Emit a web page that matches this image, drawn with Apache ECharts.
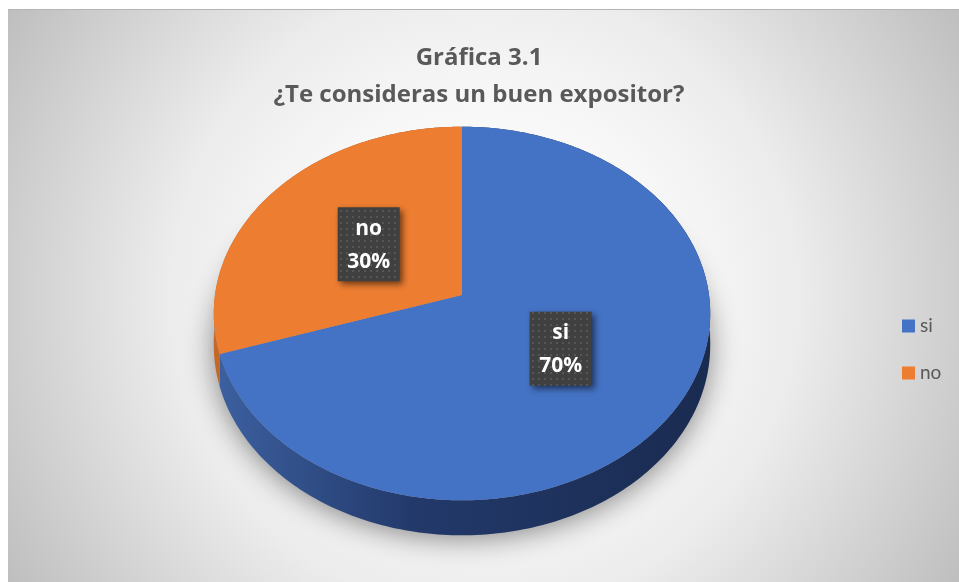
<!DOCTYPE html>
<html>
<head>
<meta charset="utf-8">
<script src="https://cdn.jsdelivr.net/npm/echarts@6/dist/echarts.min.js"></script>
<style>
    html, body { margin: 0; padding: 0; background: #ffffff; }
    #frame {
        position: absolute;
        left: 8px;
        top: 9px;
        width: 951px;
        height: 573px;
        border-top: 1px solid #b4b4b4;
    }
    #chart { width: 951px; height: 573px; }
</style>
</head>
<body>
<div id="frame"><div id="chart"></div></div>
<script>
// chart data
var categories = ['si', 'no'];
var values = [70, 30];
var titleLines = ['Gráfica 3.1', '¿Te consideras un buen expositor?'];

var topColors = ['#4472c4', '#ed7d31'];
var sideColors = [
    ['#3c5f9f', '#22396a', '#1a2b50'],
    ['#c4692a', '#a3521d', '#8f4718']
];

// 3d pie geometry (perspective tilt)
var CX = 454, CY = 285;     // apex of the pie
var K = 247, M = 185;       // horizontal / vertical radius
var P = 0.099;              // perspective factor
var H0 = 31.5;              // thickness

function proj(a, r, dz) {
    var u = Math.sin(a) * r, v = Math.cos(a) * r;
    var w = 1 + P * v;
    return [CX + K * u / w, CY - M * v / w + dz / w];
}

function arcPoints(a0, a1, dz) {
    var n = Math.max(2, Math.ceil((a1 - a0) / (Math.PI / 180)));
    var pts = [];
    for (var i = 0; i <= n; i++) {
        pts.push(proj(a0 + (a1 - a0) * i / n, 1, dz));
    }
    return pts;
}

function total() {
    var s = 0;
    for (var i = 0; i < values.length; i++) s += values[i];
    return s;
}

// dotted label background
var dots = document.createElement('canvas');
dots.width = 6;
dots.height = 6;
var dctx = dots.getContext('2d');
dctx.fillStyle = '#404040';
dctx.fillRect(0, 0, 6, 6);
dctx.fillStyle = '#565656';
dctx.fillRect(2, 2, 2, 2);

function renderSlice(params, api) {
    var idx = params.seriesIndex;
    var sum = total();
    var before = 0;
    for (var i = 0; i < idx; i++) before += values[i];
    var a0 = before / sum * Math.PI * 2;
    var a1 = (before + values[idx]) / sum * Math.PI * 2;

    var topArc = arcPoints(a0, a1, 0);
    var botArc = arcPoints(a0, a1, H0).reverse();
    var children = [];

    // soft shadow under the whole pie
    if (idx === 0) {
        children.push({
            type: 'polygon',
            z2: 0,
            shape: { points: arcPoints(0, Math.PI * 2, H0 - 6) },
            style: {
                fill: '#9a9a9a',
                shadowBlur: 28,
                shadowColor: 'rgba(0,0,0,0.45)',
                shadowOffsetY: 10
            }
        });
    }

    children.push({
        type: 'polygon',
        z2: 1,
        shape: { points: topArc.concat(botArc) },
        style: {
            fill: {
                type: 'linear', x: 0, y: 0, x2: 1, y2: 0,
                colorStops: [
                    { offset: 0, color: sideColors[idx][0] },
                    { offset: 0.4, color: sideColors[idx][1] },
                    { offset: 1, color: sideColors[idx][2] }
                ]
            }
        }
    });

    children.push({
        type: 'polygon',
        z2: 2,
        shape: { points: [[CX, CY]].concat(topArc) },
        style: { fill: topColors[idx] }
    });

    // data label: name + percent on dark box
    var mid = (a0 + a1) / 2;
    var lp = proj(mid, 0.48, 0);
    var bw = 62, bh = 74;
    children.push({
        type: 'rect',
        z2: 10,
        shape: { x: lp[0] - bw / 2, y: lp[1] - bh / 2, width: bw, height: bh },
        style: {
            fill: { image: dots, repeat: 'repeat' },
            shadowBlur: 6,
            shadowColor: 'rgba(0,0,0,0.55)',
            shadowOffsetX: 3,
            shadowOffsetY: 3
        }
    });
    children.push({
        type: 'text',
        z2: 11,
        style: {
            x: lp[0],
            y: lp[1] + 1,
            text: categories[idx] + '\n' + Math.round(values[idx] / sum * 100) + '%',
            fill: '#ffffff',
            font: 'bold 21px "Open Sans", Lato, sans-serif',
            lineHeight: 33,
            align: 'center',
            verticalAlign: 'middle'
        }
    });

    return { type: 'group', children: children };
}

var chart = echarts.init(document.getElementById('chart'));

var series = [];
for (var s = 0; s < categories.length; s++) {
    series.push({
        name: categories[s],
        type: 'custom',
        coordinateSystem: 'none',
        itemStyle: { color: topColors[s] },
        renderItem: renderSlice,
        data: [values[s]]
    });
}

var option = {
    animation: false,
    backgroundColor: {
        type: 'radial', x: 0.5, y: 0.5, r: 1,
        colorStops: [
            { offset: 0, color: '#ffffff' },
            { offset: 0.35, color: '#f7f7f7' },
            { offset: 0.55, color: '#ececec' },
            { offset: 1, color: '#bbbbbb' }
        ]
    },
    title: {
        text: titleLines.join('\n'),
        left: 466,
        textAlign: 'center',
        top: 25,
        textStyle: {
            fontFamily: '"Open Sans", Lato, sans-serif',
            fontSize: 24,
            fontWeight: 'bold',
            color: '#595959',
            lineHeight: 37
        }
    },
    legend: {
        data: categories,
        orient: 'vertical',
        left: 889,
        top: 301,
        icon: 'rect',
        itemWidth: 13,
        itemHeight: 13,
        itemGap: 27,
        selectedMode: false,
        textStyle: {
            fontFamily: 'Lato, "Open Sans", sans-serif',
            fontSize: 19,
            color: '#595959',
            lineHeight: 20
        }
    },
    series: series
};

chart.setOption(option);
</script>
</body>
</html>
